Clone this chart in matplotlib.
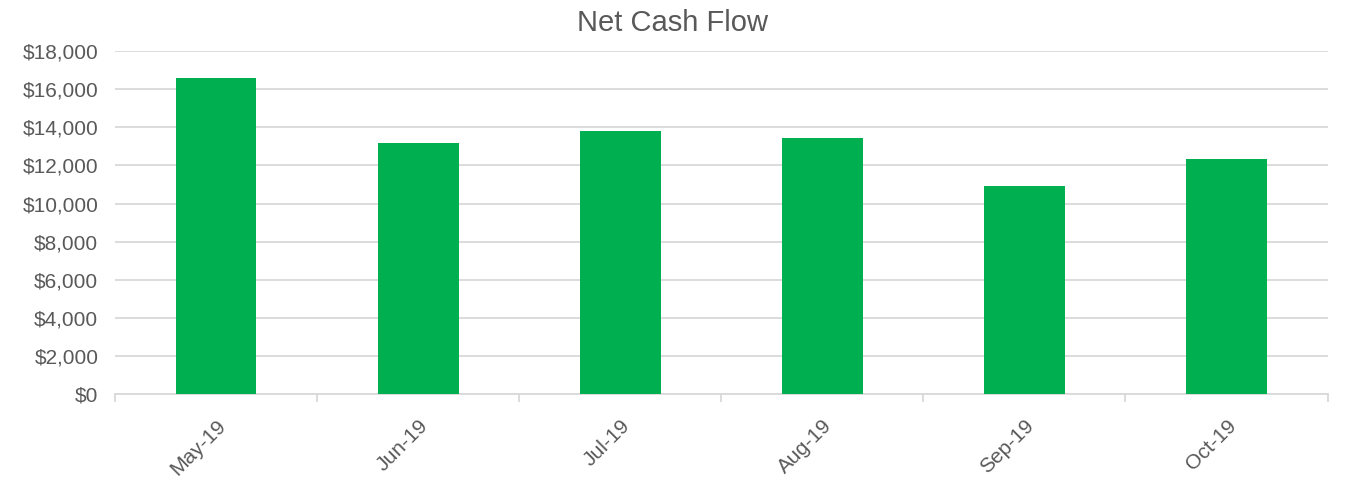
import numpy as np
import matplotlib.pyplot as plt
from matplotlib.ticker import FuncFormatter, FixedLocator

months = ['May-19', 'Jun-19', 'Jul-19', 'Aug-19', 'Sep-19', 'Oct-19']
net_cash = [16600, 13200, 13800, 13450, 10900, 12320]

plt.rcParams['font.family'] = ['Liberation Sans', 'DejaVu Sans']
grey = '#595959'

fig = plt.figure(figsize=(13.45, 4.79), dpi=100)
ax = fig.add_axes([0.0855, 0.1775, 0.9015, 0.7155])

x = np.arange(len(months))
ax.bar(x, net_cash, width=0.4, color='#00B050', zorder=3)

ax.set_xlim(-0.5, len(months) - 0.5)
ax.set_ylim(0, 18000)
ax.set_yticks(np.arange(0, 18001, 2000))
ax.yaxis.set_major_formatter(FuncFormatter(lambda v, p: f'${v:,.0f}'))
ax.grid(axis='y', color='#D9D9D9', linewidth=1.3, zorder=0)

ax.set_xticks(x)
ax.set_xticklabels(months, rotation=45, ha='right', rotation_mode='anchor')
ax.xaxis.set_minor_locator(FixedLocator(np.arange(-0.5, len(months), 1.0)))
ax.tick_params(axis='x', which='major', length=0, pad=16, labelsize=15, labelcolor=grey)
ax.tick_params(axis='x', which='minor', length=6, color='#D9D9D9', width=1.3)
ax.tick_params(axis='y', length=0, pad=12, labelsize=15, labelcolor=grey)

for s in ['top', 'right', 'left']:
    ax.spines[s].set_visible(False)
ax.spines['bottom'].set_color('#D9D9D9')
ax.spines['bottom'].set_linewidth(1.3)

fig.text(0.5, 0.953, 'Net Cash Flow', ha='center', va='center', fontsize=21, color=grey)

fig.savefig('out.png', dpi=100)
